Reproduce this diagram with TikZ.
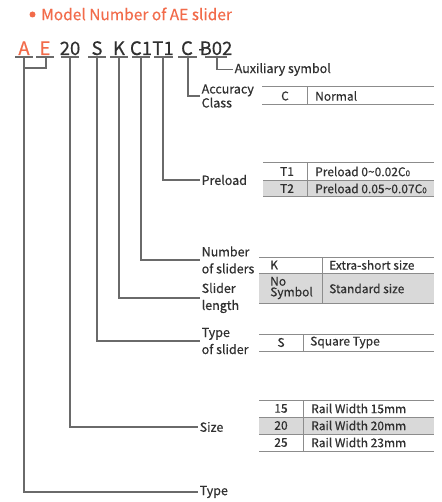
\documentclass[tikz,border=0pt]{standalone}
\usepackage{fontspec}
\setmainfont{Noto Sans CJK SC}[FakeBold=0.4]
\definecolor{orng}{HTML}{F26B4A}
\definecolor{txt}{HTML}{303030}
\definecolor{wire}{HTML}{6A6A6A}
\definecolor{rulec}{HTML}{8C8C8C}
\definecolor{rowgray}{HTML}{D9D9D9}
\newcommand{\subz}{{\fontsize{8}{8}\selectfont 0}}
\begin{document}
\begin{tikzpicture}[x=1pt,y=-1pt,
 code/.style={anchor=base,font=\fontsize{18.5}{18}\selectfont,text=txt,inner sep=0pt},
 codeo/.style={code,text=orng},
 lbl/.style={anchor=west,align=left,font=\fontsize{12.5}{17}\selectfont,text=txt,inner sep=1.5pt},
 cell/.style={font=\fontsize{12}{12}\selectfont,text=txt,inner sep=0pt},
 cellw/.style={cell,anchor=west},
 wirel/.style={draw=wire,line width=1.6pt},
 ul/.style={draw=wire,line width=1.2pt},
 tbl/.style={draw=rulec,line width=1pt}]
\useasboundingbox (0,0) rectangle (441,502);
\fill[white] (0,0) rectangle (441,502);

% title
\node[circle,fill=orng,inner sep=0pt,minimum size=6pt] (dot) at (32.5,14.5) {};
\node[anchor=west,text=orng,font=\fontsize{15.5}{16}\selectfont,inner sep=0pt] (title) at (41,14) {Model Number of AE slider};

% code row
\node[codeo] (cA) at (24,55) {A};
\node[codeo] (cE) at (45,55) {E};
\node[code] (c20) at (70,55) {20};
\node[code] (cS) at (97,55) {S};
\node[code] (cK) at (119,55) {K};
\node[code] (cC1) at (141,55) {C1};
\node[code] (cT1) at (163,55) {T1};
\node[code] (cC) at (187,55) {C};
\node[code] (cdash) at (201.5,55) {-};
\node[code] (cB) at (216,55) {B02};

% underlines
\draw[ul] (15,57) -- (33,57);
\draw[ul] (36,57) -- (54,57);
\draw[ul] (61,57) -- (79,57);
\draw[ul] (88,57) -- (106,57);
\draw[ul] (110,57) -- (128,57);
\draw[ul] (132,57) -- (150,57);
\draw[ul] (154,57) -- (173,57);
\draw[ul] (178,57) -- (197,57);
\draw[ul] (205,57) -- (227,57);

\coordinate (uA) at (24,57);
\coordinate (uE) at (46,57);
\coordinate (u20) at (70,57);
\coordinate (uS) at (97,57);
\coordinate (uK) at (119,57);
\coordinate (uC1) at (141,57);
\coordinate (uT1) at (163,57);
\coordinate (uC) at (188,57);
\coordinate (uB) at (217,57);
\coordinate (jAE) at (24,68);

% labels
\node[lbl] (lAux) at (233,69.5) {Auxiliary symbol};
\node[lbl,font=\fontsize{12.5}{14}\selectfont] (lAcc) at (200,96) {Accuracy\\Class};
\node[lbl] (lPre) at (200,180) {Preload};
\node[lbl] (lNum) at (200,260) {Number\\of sliders};
\node[lbl] (lLen) at (200,298) {Slider\\length};
\node[lbl] (lTyS) at (200,341) {Type\\of slider};
\node[lbl] (lSize) at (198,427) {Size};
\node[lbl] (lType) at (198,492) {Type};

% connectors
\draw[wirel] (uB) |- (lAux.west);
\draw[wirel] (uC) |- (lAcc.west);
\draw[wirel] (uT1) |- (lPre.west);
\draw[wirel] (uC1) |- (lNum.west);
\draw[wirel] (uK) |- (lLen.west);
\draw[wirel] (uS) |- (lTyS.west);
\draw[wirel] (u20) |- (lSize.west);
\draw[wirel] (uA) |- (lType.west);
\draw[wirel] (uE) |- (jAE);

% accuracy table
\draw[tbl] (262,87) -- (434,87);
\draw[tbl] (262,105) -- (434,105);
\draw[tbl] (307,87) -- (307,105);
\node[cell] (tC) at (285,96) {C};
\node[cellw] (tNormal) at (315,96) {Normal};

% preload table
\fill[rowgray] (263,180) rectangle (434,197);
\draw[tbl] (263,163) -- (434,163);
\draw[tbl,line width=0.6pt] (263,180) -- (434,180);
\draw[tbl] (263,197) -- (434,197);
\draw[tbl] (307,163) -- (307,197);
\node[cell] (tT1) at (287,171.5) {T1};
\node[cellw] (tP1) at (315,171.5) {Preload 0\textasciitilde 0.02C\subz};
\node[cell] (tT2) at (287,188.5) {T2};
\node[cellw] (tP2) at (315,188.5) {Preload 0.05\textasciitilde 0.07C\subz};

% slider table
\fill[rowgray] (259,273) rectangle (434,303);
\draw[tbl] (259,257) -- (434,257);
\draw[tbl,line width=0.6pt] (259,273) -- (434,273);
\draw[tbl] (259,303) -- (434,303);
\draw[tbl] (322,257) -- (322,303);
\node[cellw] (tK) at (270,265) {K};
\node[cellw] (tES) at (329,265) {Extra-short size};
\node[cellw,align=left,font=\fontsize{12}{9}\selectfont] (tNo) at (270,288) {No\\Symbol};
\node[cellw] (tStd) at (329,288.5) {Standard size};

% type table
\draw[tbl] (259,334) -- (434,334);
\draw[tbl] (259,351) -- (434,351);
\draw[tbl] (303,334) -- (303,351);
\node[cell] (tS) at (281,342.5) {S};
\node[cellw] (tSq) at (310,342.5) {Square Type};

% rail table
\fill[rowgray] (259,417) rectangle (434,434);
\draw[tbl] (259,400) -- (434,400);
\draw[tbl,line width=0.6pt] (259,417) -- (434,417);
\draw[tbl,line width=0.6pt] (259,434) -- (434,434);
\draw[tbl] (259,451) -- (434,451);
\draw[tbl] (303,400) -- (303,451);
\node[cell] (t15) at (281,408.5) {15};
\node[cellw] (tR15) at (311,408.5) {Rail Width 15mm};
\node[cell] (t20) at (281,425.5) {20};
\node[cellw] (tR20) at (311,425.5) {Rail Width 20mm};
\node[cell] (t25) at (281,442.5) {25};
\node[cellw] (tR25) at (311,442.5) {Rail Width 23mm};
\end{tikzpicture}
\end{document}
